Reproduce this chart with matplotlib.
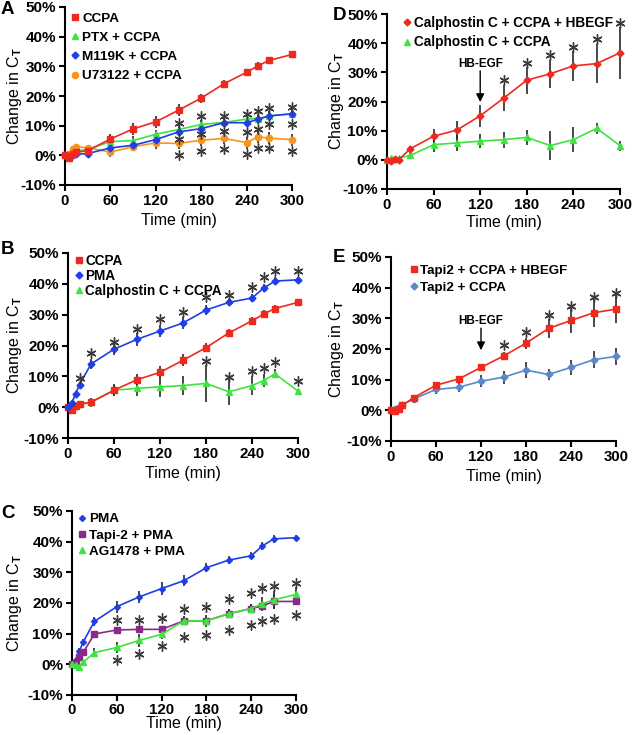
import matplotlib
matplotlib.use('Agg')
import matplotlib.pyplot as plt
from matplotlib.lines import Line2D
from matplotlib.ticker import FuncFormatter
import matplotlib.transforms as mtrans

plt.rcParams['font.family'] = ['Liberation Sans', 'DejaVu Sans']
plt.rcParams['font.weight'] = 'bold'
plt.rcParams['mathtext.fontset'] = 'custom'
plt.rcParams['mathtext.rm'] = 'Liberation Sans:bold'
plt.rcParams['mathtext.it'] = 'Liberation Sans:bold'
plt.rcParams['mathtext.bf'] = 'Liberation Sans:bold'

# ---------------- data ----------------
time_long = [0, 5, 10, 15, 30, 60, 90, 120, 150, 180, 210, 240, 255, 270, 300]
time_short = [0, 5, 10, 15, 30, 60, 90, 120, 150, 180, 210, 240, 270, 300]

ccpa = [0, -0.8, 0.5, 1.0, 1.6, 5.5, 8.9, 11.3, 15.2, 19.3, 24.1, 28.0, 30.2, 32.0, 34.0]
ccpa_err = [0.3, 0.5, 0.8, 0.8, 1.0, 1.8, 2.0, 2.0, 2.0, 1.5, 1.2, 1.2, 1.2, 1.2, 1.2]
ptx_ccpa = [0, 0.3, 1.0, 1.5, 2.0, 4.6, 5.0, 7.1, 8.7, 10.4, 11.1, 12.2, 12.4, 13.3, 14.0]
ptx_ccpa_err = [0.2, 0.5, 0.8, 0.8, 0.8, 1.5, 1.5, 1.5, 1.5, 1.5, 1.5, 1.5, 1.5, 1.5, 1.5]
m119k_ccpa = [0, -0.4, 0.2, 0.4, 0.6, 2.5, 3.4, 5.3, 7.9, 9.0, 11.0, 11.0, 12.1, 13.3, 14.0]
m119k_ccpa_err = [0.2, 0.5, 0.5, 0.5, 0.8, 1.2, 1.2, 1.5, 1.5, 1.5, 1.5, 1.5, 1.5, 1.5, 1.2]
u73122_ccpa = [0, 0.6, 2.0, 2.9, 2.5, 1.1, 2.9, 4.2, 4.0, 5.1, 5.7, 4.3, 6.2, 5.8, 5.3]
u73122_ccpa_err = [0.2, 0.8, 1.0, 1.0, 1.0, 1.5, 1.5, 2.0, 2.0, 2.0, 2.0, 2.0, 2.0, 2.0, 2.0]
star_a_time = [150, 180, 210, 240, 255, 270, 300]
star_a_high = [10.8, 13.2, 13.2, 13.9, 14.9, 16.0, 16.3]
star_a_mid = [5.4, 7.2, 8.1, 7.8, 9.0, 10.7, 10.7]
star_a_low = [0.1, 1.5, 2.1, 0.4, 2.5, 2.5, 1.3]

pma = [0, 1.4, 4.4, 7.3, 14.0, 18.8, 22.0, 24.7, 27.3, 31.5, 34.0, 35.4, 38.6, 40.9, 41.3]
pma_err = [0.2, 0.5, 0.8, 1.0, 1.5, 2.0, 2.0, 2.0, 1.8, 1.5, 1.2, 1.2, 1.2, 1.2, 1.0]
calph_ccpa = [0, 0.1, 0.4, 0.9, 1.6, 5.5, 6.1, 6.6, 7.0, 7.7, 5.0, 7.0, 8.6, 10.8, 5.2]
calph_ccpa_err = [0.3, 0.5, 0.5, 0.8, 1.5, 2.0, 2.5, 3.2, 3.0, 6.0, 4.2, 3.0, 2.0, 1.5, 0.5]
star_b_pma_time = [15, 30, 60, 90, 120, 150, 180, 210, 240, 255, 270, 300]
star_b_pma = [9.6, 17.7, 21.2, 25.3, 28.6, 31.0, 35.7, 36.4, 38.9, 42.2, 44.1, 44.3]
star_b_calph_time = [180, 210, 240, 255, 270, 300]
star_b_calph = [15.0, 9.8, 11.7, 12.8, 14.7, 8.5]

tapi2_pma = [0, 0.5, 2.5, 3.9, 9.9, 11.2, 11.4, 11.4, 14.2, 14.2, 16.5, 18.2, 19.0, 20.5, 20.5]
tapi2_pma_err = [0.2, 0.5, 0.8, 1.0, 0.8, 1.0, 1.2, 1.0, 1.2, 1.2, 1.5, 1.5, 1.5, 2.5, 1.2]
ag1478_pma = [0, -0.2, -0.8, 0.7, 3.8, 5.5, 7.8, 9.8, 14.2, 14.2, 16.5, 18.2, 19.8, 21.0, 22.8]
ag1478_pma_err = [0.2, 0.5, 0.5, 0.8, 1.5, 1.8, 2.0, 1.5, 1.5, 2.0, 1.5, 1.5, 2.0, 3.0, 2.5]
star_c_time = [60, 90, 120, 150, 180, 210, 240, 255, 270, 300]
star_c_high = [14.4, 14.6, 15.0, 18.0, 18.7, 21.2, 23.4, 25.0, 25.7, 26.6]
star_c_low = [1.4, 3.4, 6.1, 8.9, 9.5, 11.2, 12.8, 14.0, 14.7, 16.0]

calph_ccpa_hbegf = [0, -0.3, 0.3, 0.0, 3.8, 8.1, 10.2, 15.1, 21.1, 27.3, 29.5, 32.2, 33.0, 36.7]
calph_ccpa_hbegf_err = [0.3, 0.8, 0.8, 0.8, 1.0, 2.5, 3.1, 3.7, 4.4, 4.7, 4.8, 5.0, 6.8, 8.9]
calph_ccpa_d = [0, 0.5, 0.4, 0.6, 1.5, 5.2, 5.8, 6.4, 6.9, 7.7, 4.9, 6.9, 10.8, 4.9]
calph_ccpa_d_err = [0.3, 0.5, 0.5, 0.5, 0.8, 2.4, 2.8, 2.4, 2.8, 2.7, 5.1, 4.2, 2.0, 1.7]
star_d_time = [150, 180, 210, 240, 270, 300]
star_d = [27.3, 33.3, 35.9, 38.6, 41.6, 46.9]

tapi2_ccpa_hbegf = [0, -0.2, 0.3, 1.6, 4.1, 8.2, 10.2, 14.0, 17.7, 21.9, 26.7, 29.3, 31.8, 33.0]
tapi2_ccpa_hbegf_err = [0.3, 0.5, 0.8, 0.8, 0.8, 1.0, 1.0, 1.0, 1.3, 1.8, 3.0, 4.0, 4.5, 4.6]
tapi2_ccpa = [0, 0.3, 1.0, 1.8, 3.7, 6.8, 7.5, 9.5, 10.8, 13.1, 11.7, 14.0, 16.5, 17.6]
tapi2_ccpa_err = [0.3, 0.5, 0.5, 0.5, 1.2, 1.5, 1.5, 2.0, 2.1, 2.5, 1.8, 2.5, 2.8, 2.8]
star_e_time = [150, 180, 210, 240, 270, 300]
star_e = [21.2, 25.6, 31.2, 34.0, 36.8, 38.2]

x_ticks = [0, 60, 120, 180, 240, 300]
y_ticks = [-10, 0, 10, 20, 30, 40, 50]

RED = '#f0291f'
GREEN = '#3fe33f'
BLUE = '#1f3ee6'
ORANGE = '#f7941d'
PURPLE = '#8a2a88'
STEEL = '#5a88c8'
ERR = '#2a2a2a'
STAR = '#3a3a3a'

W, H = 633, 735
fig = plt.figure(figsize=(W / 100, H / 100), dpi=100)


def make_ax(l, r, t, b):
    return fig.add_axes([l / W, 1 - b / H, (r - l) / W, (b - t) / H])


def setup(ax, letter, lx, ly, ylab_x, xlabpad, xpad=2.5):
    ax.set_xlim(0, 300)
    ax.set_ylim(-10, 50)
    ax.set_xticks(x_ticks)
    ax.set_yticks(y_ticks)
    ax.yaxis.set_major_formatter(FuncFormatter(lambda v, p: f'{int(v)}%'))
    for s in ['top', 'right']:
        ax.spines[s].set_visible(False)
    for s in ['left', 'bottom']:
        ax.spines[s].set_linewidth(1.5)
    ax.tick_params(direction='out', length=4, width=1.5, pad=2.5)
    ax.tick_params(axis='y', labelsize=11)
    ax.tick_params(axis='x', labelsize=10.8, pad=xpad)
    ax.set_xlabel('Time (min)', fontsize=11.5, labelpad=xlabpad)
    ax.set_ylabel(r'Change in C$_\mathrm{T}$', fontsize=11.5)
    tr = mtrans.blended_transform_factory(fig.transFigure, ax.transAxes)
    ax.yaxis.set_label_coords(ylab_x / W, 0.5, transform=tr)
    fig.text(lx / W, 1 - ly / H, letter, fontsize=13.5, fontweight='bold',
             ha='left', va='center')


def series(ax, t, y, e, color, marker, ms):
    ax.errorbar(t, y, yerr=e, fmt='none', ecolor=ERR, elinewidth=1.2,
                capsize=0, zorder=2, clip_on=False)
    ax.plot(t, y, color=color, marker=marker, ms=ms, lw=1.2, zorder=3,
            clip_on=False)


def stars(ax, t, y):
    ax.plot(t, y, linestyle='none', marker=(6, 2, 0), ms=7.2, mec=STAR,
            mew=1.0, zorder=4, clip_on=False)


def hb_arrow(ax, text_y, top_y, tip_y):
    ax.text(120, text_y, 'HB-EGF', ha='center', va='center', fontsize=8.5,
            fontweight='bold')
    ax.annotate('', xy=(120, tip_y), xytext=(120, top_y),
                arrowprops=dict(arrowstyle='-|>', color='black', lw=1.0,
                                shrinkA=0, shrinkB=0, mutation_scale=12))


def legend(ax, items, anchor, fs, spacing):
    handles = [Line2D([], [], color=c, marker=m, ms=ms, linestyle='none')
               for (_, c, m, ms) in items]
    labels = [lab for (lab, _, _, _) in items]
    ax.legend(handles, labels, loc='upper left', bbox_to_anchor=anchor,
              frameon=False, handlelength=0.7,
              handletextpad=0.15, labelspacing=spacing, borderpad=0,
              borderaxespad=0, prop={'weight': 'bold', 'size': fs})


# ---------------- panel A ----------------
axA = make_ax(65, 292, 7, 185)
setup(axA, 'A', 1, 9, 24, 3.5)
series(axA, time_long, ptx_ccpa, ptx_ccpa_err, GREEN, '^', 4)
series(axA, time_long, u73122_ccpa, u73122_ccpa_err, ORANGE, 'o', 4.5)
series(axA, time_long, m119k_ccpa, m119k_ccpa_err, BLUE, 'D', 3.5)
series(axA, time_long, ccpa, ccpa_err, RED, 's', 4.5)
stars(axA, star_a_time, star_a_high)
stars(axA, star_a_time, star_a_mid)
stars(axA, star_a_time, star_a_low)
legend(axA, [('CCPA', RED, 's', 4.5), ('PTX + CCPA', GREEN, '^', 4),
             ('M119K + CCPA', BLUE, 'D', 3.5), ('U73122 + CCPA', ORANGE, 'o', 4.5)],
       (0.025, 0.97), 9.7, 0.5)

# ---------------- panel B ----------------
axB = make_ax(68, 298, 253, 438)
setup(axB, 'B', 1, 250, 24, 3.5)
series(axB, time_long, calph_ccpa, calph_ccpa_err, GREEN, '^', 4)
series(axB, time_long, ccpa, ccpa_err, RED, 's', 4.5)
series(axB, time_long, pma, pma_err, BLUE, 'D', 3.5)
stars(axB, star_b_pma_time, star_b_pma)
stars(axB, star_b_calph_time, star_b_calph)
legend(axB, [('CCPA', RED, 's', 4.5), ('PMA', BLUE, 'D', 3.5),
             ('Calphostin C + CCPA', GREEN, '^', 4)],
       (0.025, 0.995), 9.8, 0.08)

# ---------------- panel C ----------------
axC = make_ax(72, 296, 511, 695)
setup(axC, 'C', 1, 514, 24, -0.8, xpad=1.5)
series(axC, time_long, pma, pma_err, BLUE, 'D', 3)
series(axC, time_long, tapi2_pma, tapi2_pma_err, PURPLE, 's', 4.5)
series(axC, time_long, ag1478_pma, ag1478_pma_err, GREEN, '^', 4)
stars(axC, star_c_time, star_c_high)
stars(axC, star_c_time, star_c_low)
legend(axC, [('PMA', BLUE, 'D', 3), ('Tapi-2 + PMA', PURPLE, 's', 4.5),
             ('AG1478 + PMA', GREEN, '^', 4)],
       (0.025, 0.99), 9.7, 0.3)

# ---------------- panel D ----------------
axD = make_ax(387, 620, 14, 189)
setup(axD, 'D', 333, 15, 346, 2.0)
series(axD, time_short, calph_ccpa_d, calph_ccpa_d_err, GREEN, '^', 4.5)
series(axD, time_short, calph_ccpa_hbegf, calph_ccpa_hbegf_err, RED, 'D', 3.5)
stars(axD, star_d_time, star_d)
hb_arrow(axD, 33.0, 30.5, 19.8)
legend(axD, [('Calphostin C + CCPA + HBEGF', RED, 'D', 3.5),
             ('Calphostin C + CCPA', GREEN, '^', 4.5)],
       (0.065, 0.99), 9.8, 0.42)

# ---------------- panel E ----------------
axE = make_ax(391, 616, 257, 441)
setup(axE, 'E', 333, 257, 346, 3.5)
series(axE, time_short, tapi2_ccpa, tapi2_ccpa_err, STEEL, 'D', 3.5)
series(axE, time_short, tapi2_ccpa_hbegf, tapi2_ccpa_hbegf_err, RED, 's', 4.5)
stars(axE, star_e_time, star_e)
hb_arrow(axE, 29.0, 26.8, 19.6)
legend(axE, [('Tapi2 + CCPA + HBEGF', RED, 's', 4.5),
             ('Tapi2 + CCPA', STEEL, 'D', 3.5)],
       (0.08, 0.96), 9.6, 0.35)

fig.savefig('out.png', dpi=100)
